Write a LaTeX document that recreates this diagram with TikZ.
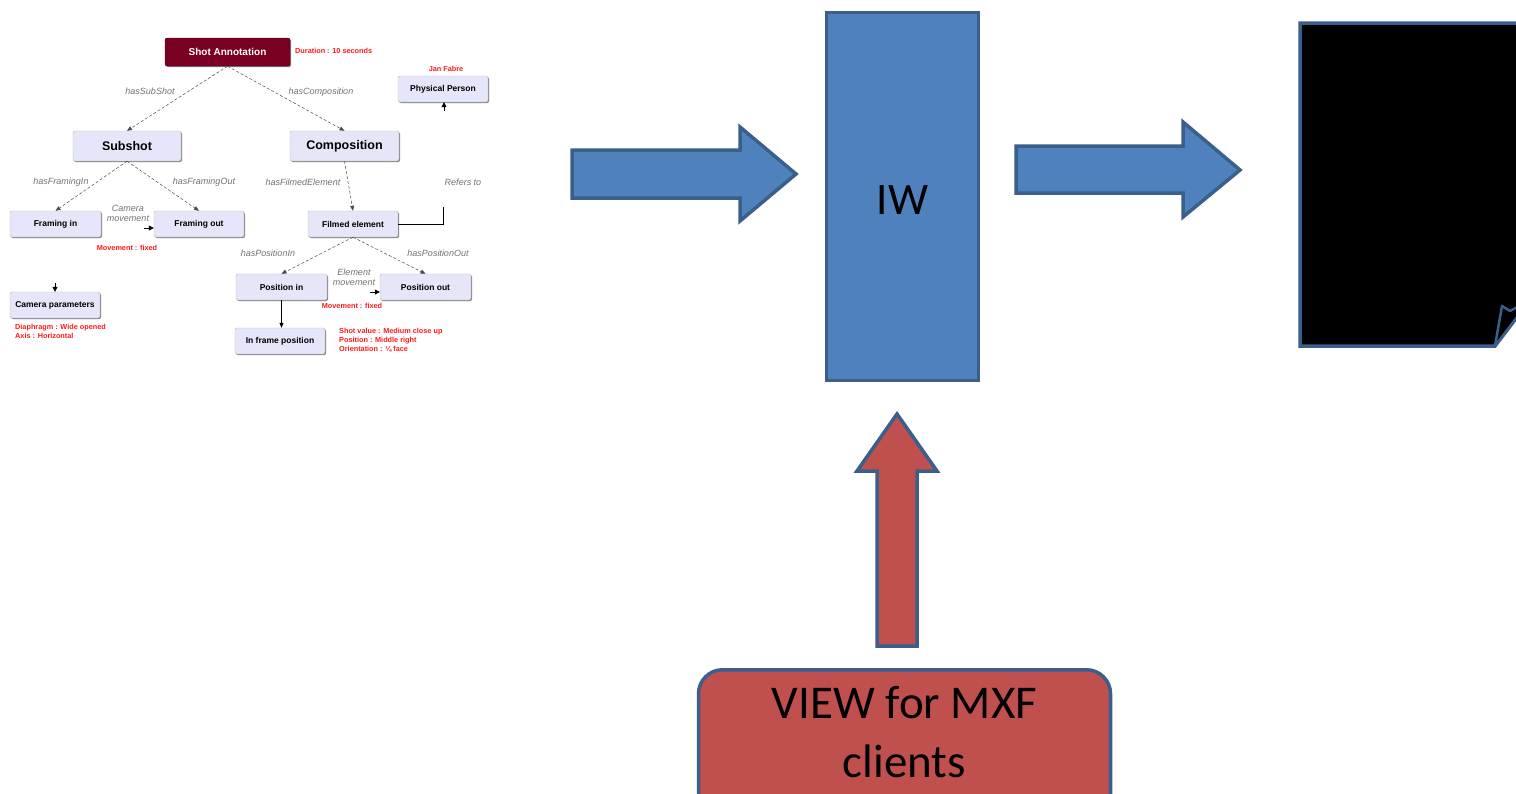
\documentclass[tikz,border=0pt]{standalone}
\usepackage{fontspec}
\setmainfont{Liberation Sans}
\newfontfamily\calibri{Carlito}
\usetikzlibrary{arrows.meta,shadows}

\definecolor{blockblue}{HTML}{4F81BD}
\definecolor{edgeblue}{HTML}{3A5F8B}
\definecolor{blockred}{HTML}{C0504D}
\definecolor{wine}{HTML}{7A0022}
\definecolor{lav}{HTML}{E6E6FA}
\definecolor{notered}{HTML}{FF1A1A}

\tikzset{
  concept/.style={draw=gray!55, fill=lav, rounded corners=2pt, inner sep=0pt,
    font=\fontsize{8.5}{9.5}\selectfont\bfseries,
    drop shadow={shadow xshift=1pt, shadow yshift=-1pt, opacity=0.7, fill=black!70}},
  bigconcept/.style={concept, font=\fontsize{12.5}{14}\selectfont\bfseries},
  rootconcept/.style={concept, draw=wine!70!black, fill=wine, text=white,
    font=\fontsize{10}{12}\selectfont\bfseries},
  rel/.style={draw=black!70, densely dashed, line width=0.5pt,
    -{Triangle[length=5pt,width=4pt]}},
  solidrel/.style={draw=black, line width=0.8pt, -{Triangle[length=5pt,width=4pt]}},
  stub/.style={draw=black, line width=0.8pt, -{Triangle[length=5pt,width=5pt]}},
  lbl/.style={inner sep=0pt, text=black!55, align=center,
    font=\fontsize{9}{10}\selectfont\itshape},
  note/.style={inner sep=0pt, text=notered, align=left,
    font=\fontsize{7.3}{9}\selectfont\bfseries},
  blockarrow/.style={fill=blockblue, draw=edgeblue, line width=3.5pt, line join=miter},
  uparrow/.style={fill=blockred, draw=edgeblue, line width=3.5pt, line join=miter},
  bigtext/.style={inner sep=0pt, font=\calibri\fontsize{45}{54}\selectfont},
  viewtext/.style={inner sep=0pt, font=\calibri\fontsize{47}{56}\selectfont}
}

\begin{document}
\begin{tikzpicture}[x=1pt,y=-1pt]
\useasboundingbox (0,0) rectangle (1516,793);
\clip (0,0) rectangle (1516,793);
\fill[white] (0,0) rectangle (1516,793);

% ---------------- ontology sketch ----------------
\node[rootconcept, minimum width=125, minimum height=28] (sa) at (227.5,52) {Shot Annotation};
\node[note, anchor=west] (dur) at (295,51) {Duration : 10 seconds};

\node[concept, minimum width=90, minimum height=26] (pp) at (443,89) {Physical Person};
\node[note] (jan) at (446,69) {Jan Fabre};

\node[bigconcept, minimum width=108, minimum height=30] (sub) at (127,146) {Subshot};
\node[bigconcept, minimum width=109, minimum height=30] (comp) at (344.5,146) {Composition};

\node[concept, minimum width=91, minimum height=26] (fin) at (55.5,224) {Framing in};
\node[concept, minimum width=90, minimum height=26] (fout) at (199,224) {Framing out};
\node[concept, minimum width=90, minimum height=26] (cam) at (55,305) {Camera parameters};
\node[concept, minimum width=90, minimum height=26] (film) at (353,224) {Filmed element};
\node[concept, minimum width=91, minimum height=26] (pin) at (281.5,287) {Position in};
\node[concept, minimum width=91, minimum height=26] (pout) at (425.5,287) {Position out};
\node[concept, minimum width=90, minimum height=26] (ifp) at (280,341) {In frame position};

% relations
\draw[rel] (sa.south) -- (sub.north);
\draw[rel] (sa.south) -- (comp.north);
\draw[rel] (sub.south) -- (fin.north);
\draw[rel] (sub.south) -- (fout.north);
\draw[rel] (comp.south) -- (film.north);
\draw[rel] (film.south) -- (pin.north);
\draw[rel] (film.south) -- (pout.north);
\draw[solidrel] (pin.south) -- (pin.south |- ifp.north);

\coordinate (cmv) at (144,228);
\draw[stub] (cmv) -- (cmv -| fout.west);
\coordinate (emv) at (370,292);
\draw[stub] (emv) -- (emv -| pout.west);
\coordinate (cpa) at (55,283);
\draw[stub] (cpa) -- (cpa |- cam.north);
\coordinate (ppa) at (444,111);
\draw[stub] (ppa) -- (ppa |- pp.south);
\coordinate (ref) at (443,207);
\draw[black, line width=0.8pt] (film.east) -| (ref);

% relation labels
\node[lbl] (l1) at (150,91) {hasSubShot};
\node[lbl] (l2) at (321,92) {hasComposition};
\node[lbl] (l3) at (61,182) {hasFramingIn};
\node[lbl] (l4) at (204,182) {hasFramingOut};
\node[lbl] (l5) at (128,213) {Camera\\movement};
\node[lbl] (l6) at (303,182) {hasFilmedElement};
\node[lbl] (l7) at (463,182) {Refers to};
\node[lbl] (l8) at (268,253) {hasPositionIn};
\node[lbl] (l9) at (438,253) {hasPositionOut};
\node[lbl] (l10) at (354,277) {Element\\movement};

% red annotations
\node[note] (n1) at (127,248) {Movement : fixed};
\node[note] (n2) at (352,306) {Movement : fixed};
\node[note, anchor=north west] (n3) at (15,324.5) {Diaphragm : Wide opened\\Axis : Horizontal};
\node[note, anchor=north west] (n4) at (339,328.5) {Shot value : Medium close up\\Position : Middle right\\Orientation : \textonequarter\ face};

% ---------------- block diagram ----------------
\draw[blockarrow] (572,150) -- (740,150) -- (740,127) -- (796,174) -- (740,221) -- (740,198) -- (572,198) -- cycle;

\node[fill=blockblue, draw=edgeblue, line width=3.5pt, minimum width=152, minimum height=368,
      inner sep=0pt] (iw) at (902.5,196.5) {};
\node[bigtext] (iwtxt) at (902.5,200) {IW};

\draw[blockarrow] (1016,146) -- (1183,146) -- (1183,122) -- (1240,170) -- (1183,217) -- (1183,193) -- (1016,193) -- cycle;

% document icon with a curled corner
\draw[fill=black, draw=edgeblue, line width=3.5pt, line join=miter]
  (1300,23) -- (1530,23) -- (1530,300) -- (1495,346) -- (1300,346) -- cycle;
\draw[fill=black, draw=edgeblue, line width=2.5pt, line join=round]
  (1495,346) -- (1502,306) -- (1510,311) -- (1530,300) -- cycle;

\draw[uparrow] (877,646) -- (877,471) -- (857,471) -- (897,414) -- (937,471) -- (917,471) -- (917,646) -- cycle;

\node[fill=blockred, draw=edgeblue, line width=3.5pt, rounded corners=24pt,
      minimum width=412, minimum height=160, anchor=north, inner sep=0pt] (view) at (904.5,668) {};
\node[viewtext, anchor=base] (view1) at (904.5,718) {VIEW for MXF};
\node[viewtext, anchor=base] (view2) at (904.5,777) {clients};
\end{tikzpicture}
\end{document}
